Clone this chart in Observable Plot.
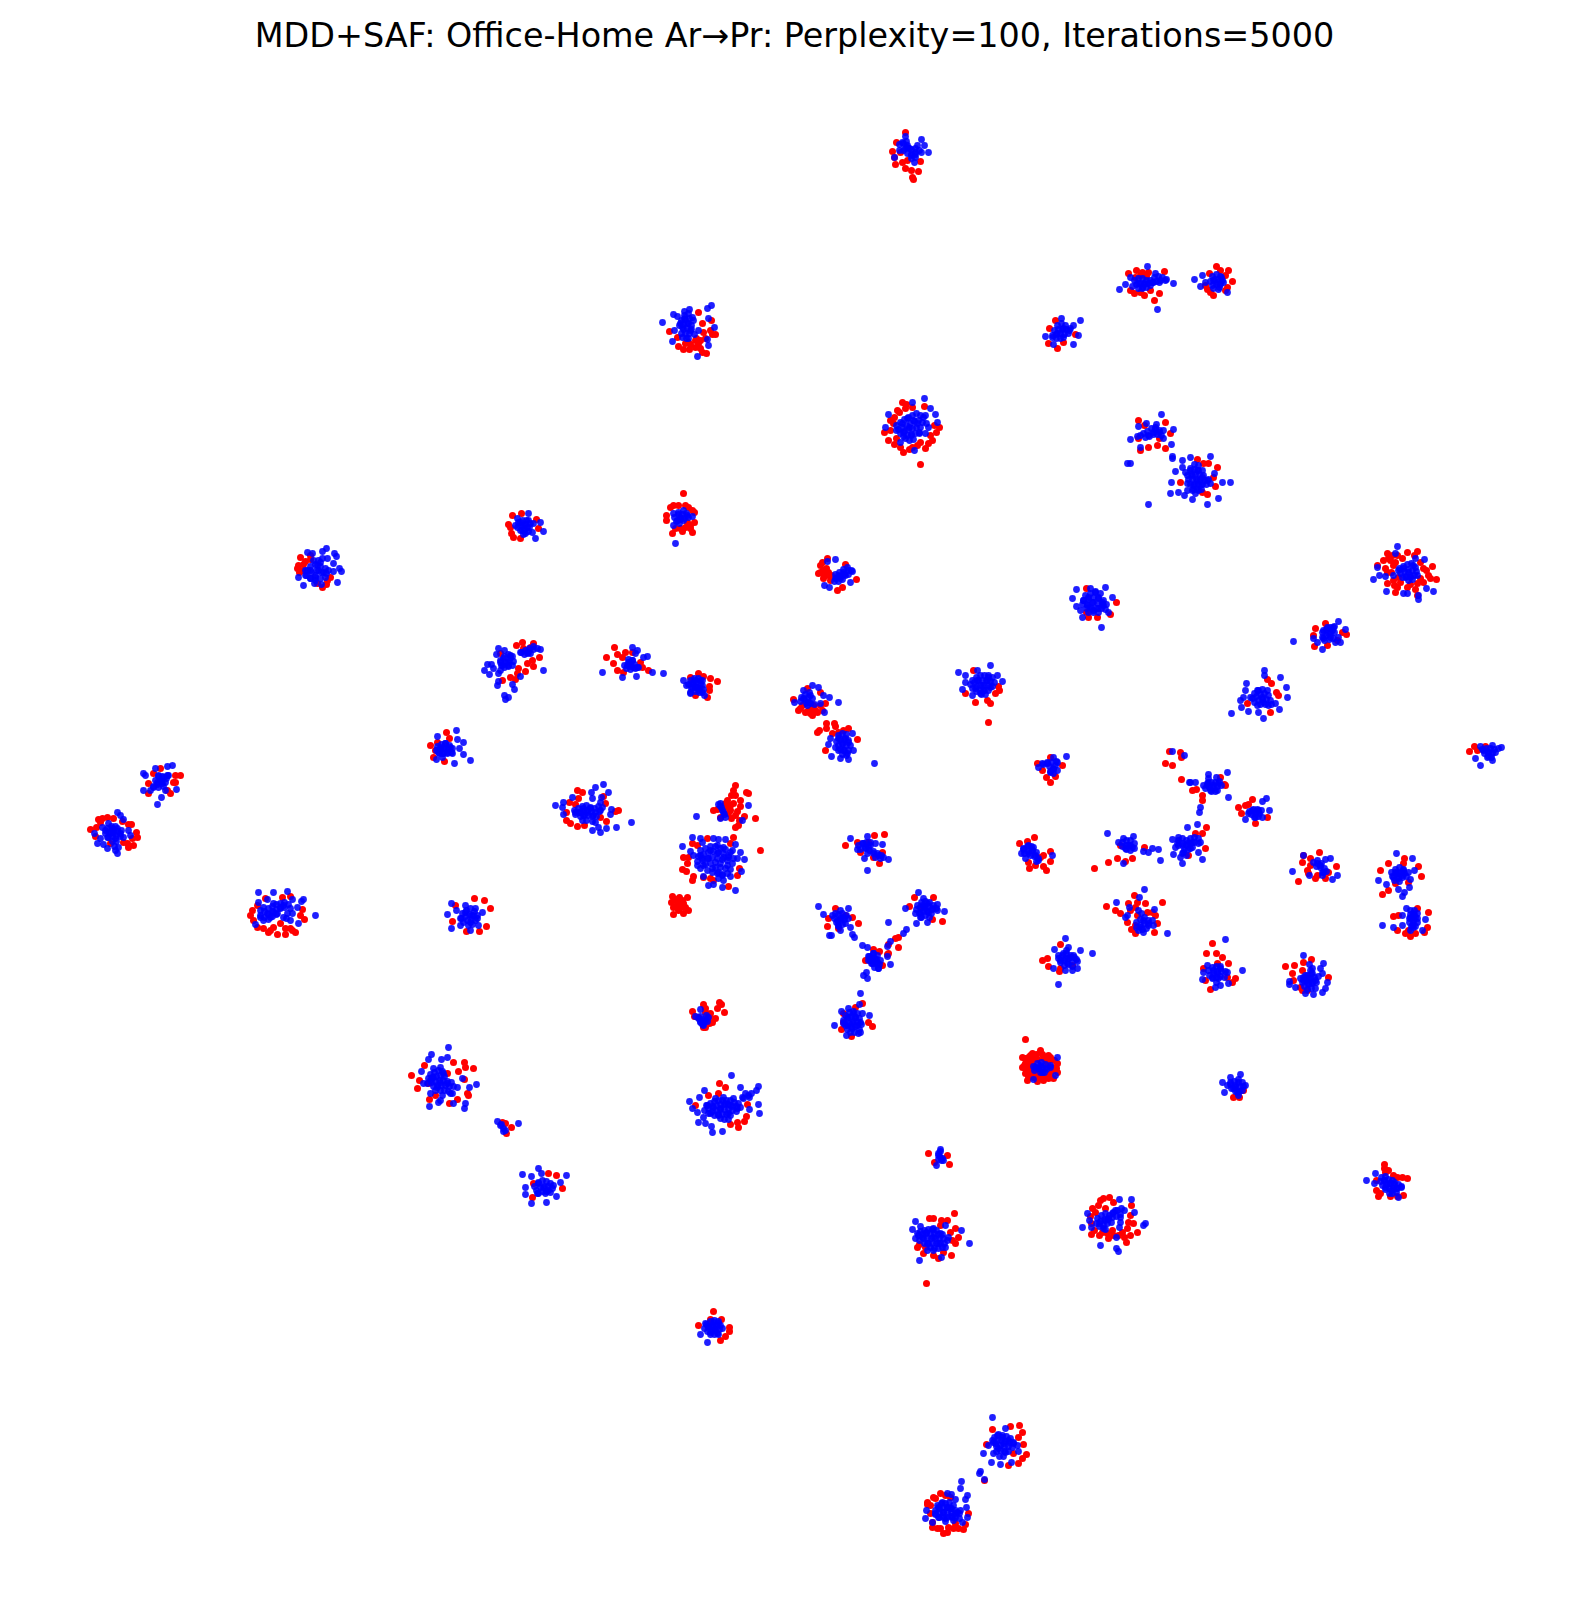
<!DOCTYPE html>
<html><head><meta charset="utf-8">
<script src="https://cdn.jsdelivr.net/npm/d3@7"></script>
<script src="https://cdn.jsdelivr.net/npm/@observablehq/plot@0.6"></script>
<style>
html,body{margin:0;padding:0;background:#fff}
#title{height:70px;line-height:71px;text-align:center;font-family:"DejaVu Sans",sans-serif;font-size:33.4px;color:#000;white-space:nowrap;width:1589px}
svg{display:block}
</style></head><body>
<div id="title">MDD+SAF: Office-Home Ar→Pr: Perplexity=100, Iterations=5000</div>
<div id="chart"></div>
<script>
const sourcePoints = [
[300,557],[305,561],[297,568],[302,570],[310,555],[327,580],[322,587],[317,583],[330,577],[298,565],
[148,783],[153,773],[175,775],[180,775],[173,782],[175,782],[170,793],[148,793],[160,768],[167,790],
[90,829],[95,836],[98,819],[102,818],[107,817],[113,818],[128,824],[131,824],[136,832],[137,837],[128,847],[133,845],[123,842],[110,843],[96,827],
[252,910],[250,915],[257,927],[263,928],[268,932],[277,934],[285,934],[295,932],[304,919],[302,909],[290,928],[280,923],[265,898],[282,897],[290,896],[273,927],[253,920],
[512,515],[508,524],[511,533],[513,537],[520,538],[521,513],[536,519],[538,528],[510,527],
[683,493],[673,505],[670,507],[685,505],[692,510],[694,512],[666,515],[666,520],[694,522],[690,525],[685,527],[682,531],[692,532],[672,533],[687,522],
[516,645],[522,642],[533,643],[530,647],[523,648],[539,657],[532,660],[527,663],[533,666],[518,668],[525,671],[517,673],[510,677],[515,679],[502,680],[500,653],
[614,647],[617,654],[625,652],[606,657],[622,657],[613,663],[617,670],[623,672],[648,670],[642,667],[640,662],[632,652],
[698,673],[703,676],[710,678],[717,681],[709,686],[709,690],[707,697],[695,695],[690,677],
[446,732],[437,742],[449,738],[430,745],[433,757],[444,761],[435,750],
[577,790],[582,792],[569,802],[578,798],[575,804],[603,796],[605,803],[566,812],[566,820],[570,823],[577,826],[584,825],[606,821],[618,810],[615,811],[600,817],
[735,785],[746,792],[748,793],[731,795],[727,800],[740,800],[733,803],[713,810],[717,809],[727,807],[730,810],[737,811],[744,816],[755,818],[739,820],[738,825],[735,827],[731,818],[720,817],[728,813],
[707,838],[733,837],[730,843],[760,850],[692,843],[697,845],[683,857],[688,857],[687,863],[682,869],[686,871],[693,876],[692,880],[703,877],[710,878],[728,886],[737,875],[739,868],[713,880],
[672,896],[679,897],[687,897],[671,902],[677,902],[683,903],[673,907],[680,907],[688,910],[683,913],[673,914],[678,910],[685,907],[675,899],
[719,1002],[721,1004],[717,1008],[724,1012],[703,1004],[692,1011],[694,1016],[705,1008],[710,1013],[715,1018],[709,1023],[703,1027],[698,1017],[707,1018],
[874,835],[884,834],[845,845],[857,842],[860,852],[879,863],[873,857],[882,852],[868,842],
[835,908],[828,918],[827,926],[852,917],[858,923],[845,915],[838,928],
[914,897],[933,897],[909,906],[932,919],[942,921],[920,907],
[898,937],[895,938],[898,947],[888,944],
[873,949],[879,951],[865,960],[887,954],[888,953],[882,965],
[862,1003],[855,1007],[843,1013],[841,1029],[868,1022],[872,1026],[851,1036],[843,1022],
[1034,837],[1027,841],[1019,843],[1050,851],[1050,861],[1043,855],[1029,868],[1043,866],[1046,870],[1035,865],[1028,862],[1040,857],[1094,868],
[1060,944],[1042,960],[1047,958],[1048,966],[1059,971],[1072,965],[1060,968],
[1025,1039],[1022,1057],[1040,1050],[1032,1053],[1050,1057],[1057,1063],[1057,1072],[1053,1078],[1043,1080],[1033,1077],[1027,1080],[1022,1067],[1025,1073],[1028,1062],[1035,1058],[1047,1062],[1040,1075],[1030,1068],[1028,1057],[1052,1070],[1037,1070],[1025,1063],[1033,1065],
[1144,847],[1132,858],[1125,861],[1117,858],[1108,862],[1120,845],
[1206,827],[1202,833],[1195,833],[1205,848],[1188,855],
[1252,799],[1238,807],[1245,805],[1241,813],[1267,817],[1255,823],[1248,804],
[1181,779],[1192,790],[1196,789],[1202,795],[1220,777],[1224,784],[1202,800],[1225,785],
[1169,751],[1165,763],[1172,765],[1180,752],[1181,757],
[1134,895],[1162,902],[1106,906],[1115,910],[1120,913],[1128,903],[1137,902],[1145,903],[1127,922],[1137,915],[1147,912],[1155,915],[1157,923],[1131,929],[1154,932],[1135,933],
[1212,943],[1206,953],[1216,953],[1222,957],[1217,963],[1228,963],[1203,968],[1205,980],[1210,989],[1235,978],[1232,982],[1227,977],
[1285,966],[1294,965],[1303,962],[1311,959],[1328,977],[1302,970],[1292,973],[1293,980],[1302,990],[1307,990],[1300,987],
[1319,852],[1303,855],[1310,858],[1302,862],[1336,866],[1298,881],[1328,872],[1308,873],[1317,875],
[1404,858],[1388,863],[1380,870],[1418,866],[1421,876],[1388,890],[1382,894],[1395,883],[1403,863],[1408,882],
[1428,912],[1417,908],[1393,916],[1397,930],[1405,933],[1410,936],[1415,933],[1427,927],[1424,932],[1398,915],[1408,930],
[1233,1097],[1239,1097],[1243,1090],
[827,558],[820,565],[818,573],[823,578],[828,572],[823,570],[830,580],[845,564],[856,579],[842,587],[837,590],[822,572],
[1086,588],[1116,602],[1110,614],[1097,617],[1088,617],[1086,612],
[973,670],[965,693],[975,702],[987,700],[990,703],[998,686],[999,690],[995,693],[988,722],
[798,710],[793,699],[802,705],[812,715],[817,712],[822,710],[825,703],[820,692],[808,710],[807,688],[813,705],
[826,723],[834,723],[835,726],[826,728],[819,730],[817,732],[825,750],[832,733],[848,728],[843,730],[857,739],[838,732],
[1050,757],[1037,763],[1042,770],[1062,765],[1055,776],[1046,777],[1050,782],
[905,132],[896,142],[892,151],[894,157],[895,164],[902,162],[905,168],[911,170],[918,171],[912,177],[913,179],[920,161],[900,152],[907,160],
[698,312],[711,320],[715,334],[712,334],[669,331],[677,337],[678,346],[683,349],[689,349],[698,343],[700,348],[706,353],[702,352],[703,332],[696,338],[702,323],[688,342],
[1049,328],[1055,320],[1048,343],[1057,348],[1063,342],[1075,334],
[1136,270],[1128,273],[1148,272],[1164,271],[1140,275],[1134,293],[1144,295],[1159,293],[1154,300],[1150,290],
[1216,266],[1228,270],[1232,281],[1207,289],[1213,295],[1227,287],[1209,273],
[902,402],[924,406],[897,410],[890,420],[884,432],[888,440],[894,444],[903,452],[909,449],[925,448],[932,440],[936,432],[939,427],[905,408],[920,464],[928,443],[917,445],[896,438],[894,417],
[1138,420],[1144,425],[1165,422],[1170,433],[1165,448],[1157,445],[1148,447],[1140,450],[1138,438],[1159,438],
[1197,459],[1208,463],[1217,467],[1180,482],[1215,486],[1207,494],[1202,492],[1203,463],[1213,477],
[1387,553],[1417,551],[1407,552],[1397,555],[1390,560],[1385,568],[1377,565],[1387,583],[1395,592],[1397,587],[1407,587],[1417,595],[1436,579],[1432,566],[1428,575],[1423,582],[1393,565],[1398,577],[1423,568],[1393,580],[1417,583],[1388,558],
[1315,628],[1314,646],[1325,623],[1327,645],[1342,632],[1346,634],[1337,640],[1313,635],
[1267,679],[1271,683],[1276,692],[1270,712],[1278,695],[1247,703],
[1474,746],[1469,751],[1485,746],[1477,750],
[411,1075],[419,1080],[417,1088],[424,1065],[428,1083],[453,1062],[464,1062],[465,1067],[458,1071],[473,1068],[467,1093],[468,1095],[435,1095],[429,1099],[449,1103],[457,1099],[447,1073],[464,1079],
[505,1123],[511,1127],[506,1133],[502,1122],
[548,1173],[556,1175],[562,1188],[532,1197],[533,1183],
[719,1083],[725,1087],[708,1095],[718,1093],[747,1104],[746,1116],[744,1121],[738,1127],[730,1124],[737,1122],[695,1105],
[713,1311],[698,1325],[710,1319],[721,1319],[729,1327],[729,1331],[725,1336],[720,1340],
[992,1429],[1019,1425],[1010,1426],[1022,1432],[1018,1437],[1023,1444],[1026,1454],[1018,1463],[1008,1465],[986,1444],[1022,1458],[1013,1453],[984,1480],[926,1283],
[940,1493],[933,1497],[927,1502],[927,1504],[968,1513],[963,1529],[953,1528],[943,1533],[937,1528],[930,1513],[947,1532],[958,1528],[950,1497],[932,1522],
[928,1153],[947,1155],[934,1162],[949,1164],
[954,1213],[929,1218],[933,1218],[941,1220],[947,1220],[955,1228],[958,1237],[955,1243],[951,1255],[938,1258],[933,1255],[923,1253],[917,1247],[943,1252],
[1103,1198],[1109,1197],[1113,1202],[1092,1208],[1098,1205],[1105,1208],[1091,1223],[1091,1234],[1099,1235],[1108,1238],[1113,1235],[1126,1242],[1130,1235],[1137,1232],[1131,1205],[1133,1223],[1122,1232],
[1384,1164],[1385,1172],[1393,1175],[1402,1177],[1407,1178],[1376,1190],[1378,1196],[1390,1196],[1403,1195],[1376,1180],
[484,900],[490,908],[486,926],[466,931],[455,905],[474,898],[479,931],[452,921]
];
const sourceFillPoints = [
[1030,1055],[1036,1054],[1042,1054],[1048,1055],[1054,1060],[1025,1058],[1031,1060],[1037,1059],[1043,1058],[1049,1060],[1024,1065],[1029,1065],[1052,1067],[1056,1068],[1026,1070],[1031,1072],[1050,1073],[1028,1076],[1034,1075],[1039,1077],[1045,1076],[1048,1078],[1037,1081],
[893,423],[899,412],[906,404],[912,407],[930,435],[890,430],[920,442],[900,447],[934,425],[912,447],
[1383,560],[1395,562],[1402,558],[1414,555],[1420,562],[1426,570],[1430,578],[1420,578],[1387,572],[1391,572],[1394,585],[1400,582],[1410,584],[1415,589],[1392,555],
[935,1498],[945,1495],[930,1505],[932,1527],[940,1528],[955,1523],[965,1524],[948,1527],
[925,1247],[919,1244],[940,1225],[950,1232],[952,1240],
[1100,1200],[1095,1212],[1090,1216],[1094,1230],[1102,1232],[1107,1233],[1112,1230],[1118,1235],[1124,1237],[1127,1228],[1130,1215],[1128,1222],
[1388,1170],[1397,1177],[1380,1193],[1397,1196],[1384,1168],
[676,906],[682,900],
[303,564],[299,572],[310,559],[326,584],
[100,822],[122,821],[127,843],[132,838],
[257,905],[292,930],[300,915],[270,930],[285,928],
[690,344],[695,340],[700,340],[705,338],[685,343],[710,330],[695,347],
[1135,277],[1142,272],[1146,276],[1130,290],[1140,292],
[1220,270],[1225,275],[1205,285],[1210,292],[1225,290],
[733,790],[735,795],[725,803],[730,805],[740,806],[735,815],
[805,712],[810,713],[815,710],[812,708],[800,708],[820,705],
[822,562],[826,568],[820,572],[826,575],[831,575],
[1310,865],[1307,870],[1315,878],[1325,878],
[1130,910],[1135,907],[1152,912],[1135,925],
[705,1012],[709,1016],[712,1022],[705,1027],
[678,505],[688,507],[675,528],[680,528],[690,528]
];
const targetPoints = [
[307,552],[312,553],[326,548],[322,551],[334,553],[336,556],[339,568],[341,571],[333,563],[337,582],[298,577],[303,585],[321,584],[313,560],[320,562],[327,558],[305,575],[310,570],[315,575],[318,570],[323,572],[310,578],[315,580],[307,570],[317,565],[328,570],[333,571],
[143,773],[145,775],[155,768],[167,766],[172,765],[143,790],[157,804],[161,797],[176,789],[160,780],[157,782],[163,777],[167,775],[153,787],[150,790],[165,790],[158,775],[162,783],
[117,812],[120,815],[123,819],[102,827],[94,833],[100,838],[97,843],[103,844],[107,848],[115,850],[117,853],[118,847],[128,830],[130,835],[123,837],[108,823],[113,832],[110,833],[117,828],[107,837],[115,838],[120,833],[112,828],[105,830],
[258,892],[273,892],[287,891],[303,899],[301,901],[315,915],[297,907],[292,899],[258,902],[255,924],[267,899],[263,907],[273,903],[283,905],[260,917],[267,913],[273,912],[280,908],[287,913],[290,920],[298,923],[263,920],[270,917],[277,913],[260,910],[283,917],
[528,513],[540,522],[543,531],[535,538],[517,518],[523,525],[520,522],[527,527],[528,520],[522,530],[525,533],[532,532],[515,525],[533,523],
[675,543],[673,525],[673,513],[683,510],[692,516],[680,517],[677,520],[683,520],[687,515],[678,512],
[498,648],[496,654],[504,650],[487,664],[491,664],[484,670],[489,674],[500,670],[498,681],[497,685],[512,684],[514,689],[504,695],[508,697],[505,699],[543,670],[520,676],[540,649],[533,649],[527,653],[520,652],[530,653],[507,662],[503,658],[510,657],[502,665],[508,665],[500,662],[498,673],[493,668],[510,655],
[632,647],[637,650],[635,653],[647,656],[643,657],[602,672],[622,677],[636,676],[652,672],[663,673],[630,663],[627,665],[633,667],[637,667],[632,660],
[683,680],[686,685],[690,692],[693,683],[697,687],[700,680],[695,680],[702,692],[704,695],[690,693],[698,690],[692,687],[702,685],
[456,730],[437,736],[457,739],[463,742],[459,748],[463,754],[454,763],[470,760],[436,759],[443,748],[440,747],[447,752],[450,747],[438,752],[445,743],[452,753],[442,753],
[603,784],[595,787],[608,792],[591,792],[592,798],[555,805],[563,802],[562,807],[572,797],[563,814],[611,809],[610,814],[631,822],[616,827],[606,828],[592,830],[600,832],[598,827],[602,807],[600,810],[587,812],[580,812],[575,812],[583,808],[590,808],[593,815],[582,820],[595,822],[583,815],
[696,816],[748,805],[742,820],[720,803],[721,807],[723,812],[725,817],[720,818],
[682,846],[692,837],[700,838],[702,842],[713,838],[718,839],[725,839],[735,844],[732,850],[740,852],[744,859],[737,858],[741,871],[730,876],[735,890],[722,887],[713,884],[708,885],[690,851],[693,855],[700,855],[697,865],[703,865],[703,876],[710,850],[717,853],[723,857],[715,862],[720,863],[727,865],[708,858],[712,868],[718,872],[723,880],[722,875],[728,855],[702,858],[707,870],[717,845],[723,847],
[700,1009],[695,1016],[700,1022],[703,1025],[708,1017],[705,1020],[703,1023],
[850,838],[867,836],[882,844],[857,849],[867,870],[888,859],[864,858],[863,843],[868,847],[865,848],[870,842],[875,843],[878,855],[883,857],[873,853],
[818,906],[823,914],[848,908],[832,915],[831,935],[829,935],[852,934],[854,937],[850,927],[840,910],[840,918],[837,920],[843,917],[838,925],[835,913],[845,923],
[918,892],[923,898],[905,908],[937,904],[944,911],[916,923],[927,922],[915,913],[920,917],[925,908],[922,905],[928,912],[927,903],[920,912],[932,908],[937,910],
[888,922],[906,929],[903,933],[887,946],[890,941],
[862,945],[867,947],[887,956],[890,964],[866,972],[863,975],[867,978],[868,956],[874,958],[872,963],[877,962],[873,953],[878,968],[870,960],
[860,993],[859,1004],[841,1011],[848,1008],[862,1013],[869,1015],[834,1025],[846,1035],[860,1032],[852,1022],[848,1017],[855,1017],[847,1025],[857,1025],[852,1028],[843,1023],[860,1022],[853,1013],
[1021,853],[1052,855],[1025,858],[1023,848],[1028,845],[1032,850],[1035,855],[1038,860],[1028,853],[1033,847],
[1065,938],[1092,953],[1058,984],[1054,949],[1068,947],[1080,950],[1077,961],[1077,968],[1053,968],[1065,970],[1072,970],[1065,958],[1060,960],[1070,957],[1063,953],[1073,955],[1067,963],[1058,955],
[1057,1057],[1055,1075],[1033,1079],[1035,1067],[1040,1065],[1045,1068],[1042,1072],[1038,1068],[1050,1067],
[1107,833],[1133,836],[1118,842],[1123,838],[1128,845],[1125,848],[1132,847],[1143,851],[1152,848],[1158,849],[1160,860],[1123,863],[1148,852],
[1197,824],[1187,827],[1172,839],[1178,837],[1173,854],[1182,863],[1202,859],[1187,843],[1182,845],[1192,842],[1177,843],[1198,852],[1183,852],[1190,848],[1200,842],[1175,847],
[1266,798],[1262,801],[1269,810],[1245,819],[1255,812],[1252,810],[1258,810],[1255,817],[1262,817],[1248,813],
[1189,782],[1195,782],[1208,774],[1227,772],[1213,785],[1208,782],[1218,783],[1210,790],[1217,790],[1200,807],[1199,812],[1228,797],[1207,785],[1190,782],
[1172,751],[1184,755],
[1144,889],[1139,897],[1116,902],[1167,933],[1154,909],[1129,907],[1125,917],[1143,920],[1140,927],[1148,923],[1153,925],[1138,910],[1143,932],[1127,915],
[1225,939],[1242,970],[1203,972],[1202,979],[1207,965],[1217,973],[1213,970],[1220,968],[1227,972],[1215,987],[1220,985],[1228,983],[1212,977],[1218,978],
[1303,955],[1323,963],[1320,968],[1322,973],[1327,982],[1325,988],[1322,992],[1313,994],[1305,993],[1295,987],[1289,981],[1289,984],[1308,978],[1305,975],[1312,973],[1308,983],[1312,983],[1315,980],[1303,980],[1310,970],
[1330,858],[1325,859],[1292,871],[1337,875],[1332,879],[1309,875],[1303,855],[1317,863],[1320,865],[1323,872],[1322,875],
[1396,853],[1412,858],[1378,880],[1386,884],[1414,870],[1410,879],[1409,887],[1404,892],[1402,896],[1398,889],[1398,873],[1395,872],[1402,875],[1398,878],[1403,870],[1393,877],
[1406,908],[1382,925],[1393,927],[1402,925],[1425,919],[1422,930],[1413,913],[1413,920],[1412,925],[1415,917],[1410,917],[1402,915],[1413,927],
[1240,1074],[1230,1077],[1222,1082],[1224,1092],[1245,1085],[1235,1085],[1230,1082],[1238,1082],[1237,1092],[1233,1088],[1242,1090],[1227,1085],
[827,561],[835,559],[824,585],[829,587],[850,582],[852,571],[838,575],[843,572],[848,570],[835,578],[840,578],[845,575],
[1105,587],[1076,589],[1072,598],[1076,606],[1082,617],[1101,627],[1112,597],[1090,588],[1080,610],[1108,612],[1093,602],[1088,597],[1098,597],[1087,605],[1098,608],[1093,610],[1103,605],[1083,600],[1095,592],[1102,602],[1090,607],
[977,670],[990,665],[958,672],[965,675],[965,682],[962,689],[1002,681],[997,675],[982,685],[977,680],[987,680],[983,690],[975,688],[990,687],[972,695],[980,693],[988,677],
[812,685],[818,687],[823,695],[829,697],[838,702],[824,712],[794,702],[820,703],[803,690],[808,702],[803,698],[810,695],[807,705],
[830,738],[828,744],[831,756],[840,758],[848,759],[874,763],[853,750],[852,733],[842,743],[838,738],[845,738],[843,750],[838,750],[848,742],[835,747],[847,753],
[1066,756],[1053,757],[1038,767],[1042,763],[1057,762],[1050,772],[1053,768],[1047,763],[1057,770],
[894,157],[902,142],[905,136],[921,139],[924,145],[928,152],[914,162],[909,148],[915,152],[907,145],[917,145],[921,152],[911,155],[905,148],[899,150],
[662,322],[673,314],[677,316],[674,330],[672,341],[684,311],[689,309],[707,308],[711,305],[708,318],[714,327],[707,339],[708,345],[697,356],[688,323],[684,318],[692,317],[682,327],[690,330],[698,330],[682,337],[688,338],[680,323],
[1080,320],[1045,336],[1053,344],[1073,344],[1078,335],[1061,318],[1063,328],[1057,333],[1069,330],[1052,337],[1063,337],[1073,325],
[1147,266],[1119,289],[1125,284],[1130,277],[1157,309],[1173,283],[1165,280],[1155,273],[1159,282],[1144,283],[1138,283],[1150,285],[1132,286],[1153,282],[1142,288],
[1194,279],[1202,275],[1200,286],[1227,292],[1217,282],[1213,280],[1221,277],[1219,287],[1205,282],[1223,282],
[924,398],[912,402],[930,408],[935,414],[888,414],[885,427],[937,422],[914,450],[900,442],[909,427],[902,423],[917,423],[923,417],[911,435],[903,432],[919,433],[896,430],[907,418],[928,427],[913,420],[905,438],[925,433],
[1161,414],[1138,426],[1130,439],[1173,429],[1171,444],[1140,447],[1130,463],[1153,432],[1148,435],[1159,432],[1140,435],[1155,427],[1146,423],[1163,438],
[1172,456],[1172,458],[1190,457],[1210,456],[1182,460],[1182,467],[1175,471],[1185,472],[1214,473],[1171,482],[1222,482],[1230,482],[1170,493],[1178,492],[1184,495],[1192,499],[1218,498],[1207,504],[1148,504],[1127,463],[1197,480],[1192,475],[1202,477],[1193,485],[1200,485],[1207,480],[1187,483],[1197,470],[1198,490],[1192,490],[1210,483],[1190,468],
[1397,546],[1395,553],[1415,558],[1424,559],[1377,567],[1373,579],[1379,575],[1385,576],[1386,591],[1403,593],[1407,593],[1418,595],[1418,599],[1426,588],[1433,591],[1408,572],[1403,568],[1413,565],[1410,577],[1398,570],[1417,575],[1393,575],[1405,577],
[1293,641],[1338,621],[1333,627],[1345,629],[1322,649],[1313,638],[1340,642],[1328,633],[1323,630],[1330,637],[1323,638],[1335,642],[1317,642],[1327,627],[1332,630],
[1264,670],[1264,675],[1280,677],[1286,687],[1287,697],[1279,709],[1263,718],[1248,711],[1231,713],[1241,707],[1240,700],[1246,683],[1245,690],[1262,697],[1257,690],[1267,690],[1250,697],[1257,705],[1268,705],[1275,703],[1243,697],[1263,702],[1258,712],
[1501,747],[1492,745],[1480,746],[1480,765],[1475,758],[1492,760],[1488,752],[1483,750],[1495,752],[1487,757],[1498,748],
[448,1047],[447,1057],[431,1054],[428,1059],[441,1059],[421,1071],[429,1106],[464,1108],[465,1103],[476,1084],[469,1087],[453,1103],[438,1102],[423,1083],[440,1082],[433,1077],[447,1083],[437,1087],[430,1080],[443,1073],[450,1093],[440,1067],[457,1087],[442,1095],[430,1093],[462,1078],[433,1068],
[497,1121],[500,1125],[518,1123],[503,1131],
[538,1168],[522,1174],[566,1175],[531,1176],[541,1173],[525,1187],[525,1194],[531,1203],[546,1202],[556,1196],[560,1182],[543,1187],[538,1183],[548,1190],[553,1185],[537,1193],[545,1193],
[731,1075],[740,1087],[758,1086],[756,1090],[749,1097],[758,1104],[759,1113],[749,1109],[704,1090],[699,1097],[689,1101],[692,1108],[697,1112],[698,1122],[705,1123],[712,1132],[722,1131],[711,1126],[720,1108],[713,1107],[725,1103],[733,1098],[707,1105],[718,1115],[728,1113],[737,1108],[710,1113],[723,1097],[743,1098],[703,1117],[730,1105],[715,1098],
[700,1334],[707,1342],[705,1323],[713,1327],[718,1323],[710,1332],[717,1333],[708,1327],[722,1328],[713,1322],[715,1330],
[992,1417],[1005,1428],[988,1445],[983,1453],[991,1462],[1000,1464],[1011,1462],[1018,1451],[1003,1443],[997,1435],[995,1443],[1008,1440],[993,1453],[1005,1452],[1013,1443],[998,1448],[1002,1437],[992,1440],
[980,1471],[979,1473],[984,1479],[961,1481],[960,1488],[967,1495],[965,1499],
[951,1494],[955,1499],[966,1507],[926,1510],[925,1518],[932,1522],[962,1522],[967,1517],[947,1493],[943,1512],[938,1507],[950,1508],[945,1518],[938,1517],[952,1517],[957,1512],[942,1502],[935,1513],[953,1520],[947,1507],[960,1510],
[940,1149],[940,1157],[936,1165],[941,1160],[938,1153],
[915,1221],[912,1229],[920,1226],[945,1225],[961,1230],[969,1243],[919,1260],[941,1257],[915,1238],[933,1237],[926,1232],[940,1233],[927,1243],[938,1243],[948,1237],[922,1237],[933,1228],[945,1247],[933,1250],[917,1233],
[1119,1199],[1131,1199],[1134,1212],[1087,1213],[1089,1220],[1082,1227],[1091,1227],[1145,1223],[1143,1225],[1100,1245],[1116,1237],[1116,1248],[1118,1251],[1105,1220],[1099,1223],[1115,1210],[1120,1217],[1108,1218],[1119,1227],[1124,1210],[1103,1228],[1112,1213],
[1366,1180],[1375,1173],[1374,1183],[1398,1197],[1389,1183],[1396,1188],[1384,1180],[1391,1190],[1401,1187],[1385,1187],[1394,1182],
[451,903],[447,914],[451,928],[471,915],[465,912],[477,918],[460,918],[470,922],[482,912],[475,908],[465,905],[460,925],[478,925],[456,910],[470,930]
];
const targetCorePoints = [
[305,570],[310,566],[315,564],[320,566],[325,568],[306,575],[311,572],[316,570],[321,572],[326,573],[310,578],[315,577],[320,578],[325,577],[318,560],[322,558],[314,583],
[155,780],[158,776],[162,776],[166,778],[157,784],[161,781],[165,782],[153,786],[158,787],[168,775],[163,786],
[107,828],[111,826],[115,826],[105,833],[109,832],[113,830],[117,831],[121,830],[108,837],[112,836],[116,835],[120,836],[112,841],[116,841],[114,846],
[260,915],[264,911],[268,908],[272,906],[276,904],[280,903],[284,902],[288,904],[264,917],[268,914],[272,911],[276,909],[280,907],[284,907],[268,919],[272,916],[276,914],[290,908],[292,913],[286,918],
[518,522],[522,520],[526,520],[530,523],[517,527],[521,525],[525,524],[529,527],[520,530],[524,529],[528,531],[523,534],
[674,517],[678,514],[682,514],[686,513],[676,521],[680,519],[684,518],[688,517],[679,523],
[500,660],[504,656],[508,654],[512,656],[501,665],[505,662],[509,660],[513,661],[504,667],[508,666],[512,665],[521,652],[525,650],[529,648],[533,646],[537,648],[524,654],[528,652],
[624,665],[628,662],[632,660],[626,668],[630,666],[634,664],[630,669],[635,668],[638,667],[628,659],
[690,680],[694,678],[698,678],[702,680],[688,684],[692,683],[696,682],[700,684],[691,688],[695,687],[699,688],[703,689],[695,691],[699,692],
[437,746],[441,744],[445,743],[449,745],[436,750],[440,749],[444,748],[448,749],[452,748],[439,753],[443,753],[447,753],[451,752],[442,757],
[574,810],[578,808],[582,806],[586,805],[590,807],[594,808],[598,806],[575,814],[579,812],[583,811],[587,810],[591,811],[595,812],[599,811],[580,816],[584,815],[588,815],[592,816],[596,816],[600,802],[601,797],[586,820],[592,821],
[720,806],[722,810],[724,814],[718,804],
[700,850],[705,848],[710,846],[715,846],[720,848],[725,849],[730,852],[698,856],[703,854],[708,852],[713,851],[718,852],[723,853],[728,857],[733,858],[697,861],[702,860],[707,858],[712,857],[717,858],[722,859],[727,860],[732,863],[705,864],[710,863],[715,867],[720,867],[725,868],[730,869],[700,868],[712,872],[717,873],[722,874],[727,873],[718,878],
[700,1016],[703,1019],[706,1015],[700,1021],[702,1024],[707,1021],[698,1018],
[858,845],[862,843],[866,842],[870,845],[860,849],[865,847],[869,850],[873,851],[877,853],[881,855],[875,857],[880,858],[867,853],
[834,918],[838,914],[842,913],[846,915],[836,922],[840,920],[844,919],[838,926],[842,924],[848,918],[840,930],
[917,905],[921,902],[925,901],[929,902],[933,905],[916,909],[920,907],[924,906],[928,906],[932,909],[936,908],[919,913],[923,911],[927,911],[931,913],[921,917],[925,915],[929,917],
[869,956],[873,953],[877,955],[868,960],[872,958],[876,959],[880,960],[871,963],[875,963],[879,964],[874,967],[878,968],
[845,1015],[849,1012],[853,1011],[857,1013],[843,1020],[847,1018],[851,1016],[855,1017],[859,1018],[845,1025],[849,1023],[853,1021],[857,1022],[861,1024],[847,1029],[851,1027],[855,1026],[859,1029],[850,1032],[854,1032],[858,1033],
[1023,849],[1027,846],[1031,846],[1024,853],[1028,851],[1032,850],[1036,852],[1030,855],[1034,856],[1038,858],[1036,861],
[1058,958],[1062,955],[1066,953],[1070,955],[1074,957],[1060,962],[1064,960],[1068,958],[1072,961],[1076,959],[1064,965],[1068,964],[1072,966],[1066,950],
[1033,1066],[1037,1063],[1041,1062],[1045,1064],[1034,1070],[1038,1068],[1042,1067],[1046,1069],[1050,1065],[1040,1072],[1044,1072],
[1122,842],[1126,840],[1130,840],[1122,846],[1126,845],[1130,845],[1134,843],[1126,849],[1130,850],[1134,848],
[1178,840],[1182,838],[1186,840],[1190,838],[1194,837],[1198,838],[1178,845],[1182,843],[1186,845],[1190,843],[1194,842],[1198,843],[1184,849],[1188,849],[1192,847],[1182,853],[1186,855],[1180,857],
[1249,811],[1253,809],[1257,809],[1261,810],[1251,814],[1255,813],[1259,813],[1254,817],[1258,816],
[1203,785],[1207,783],[1211,782],[1215,782],[1219,781],[1205,788],[1209,787],[1213,787],[1217,786],[1221,785],[1211,791],[1215,791],[1208,778],[1216,777],
[1136,922],[1140,919],[1144,917],[1148,920],[1152,920],[1136,927],[1140,925],[1144,923],[1148,925],[1138,930],[1142,929],[1146,928],[1141,913],
[1208,970],[1212,967],[1216,966],[1220,966],[1209,975],[1213,973],[1217,971],[1221,971],[1225,971],[1212,978],[1216,977],[1220,976],[1224,977],[1216,982],
[1303,977],[1307,975],[1311,973],[1312,968],[1309,964],[1302,982],[1306,980],[1310,978],[1314,977],[1318,976],[1304,986],[1308,984],[1312,982],[1316,982],[1307,989],[1311,988],[1315,988],[1300,978],
[1313,862],[1317,860],[1321,863],[1316,866],[1320,867],[1324,868],[1322,872],[1326,871],
[1391,872],[1395,869],[1399,867],[1403,869],[1392,876],[1396,873],[1400,872],[1404,873],[1408,872],[1394,880],[1398,877],[1402,877],[1406,876],[1399,881],
[1410,910],[1414,910],[1410,914],[1414,914],[1417,913],[1409,918],[1413,917],[1417,918],[1409,922],[1413,922],[1417,922],[1411,926],[1415,926],[1410,930],
[1230,1084],[1234,1081],[1238,1079],[1242,1082],[1231,1088],[1235,1087],[1239,1086],[1243,1086],[1235,1091],[1239,1091],[1238,1095],
[835,574],[839,572],[843,569],[847,567],[851,570],[836,578],[840,576],[844,574],[848,574],[834,581],[838,581],[842,579],
[1085,595],[1090,593],[1095,591],[1100,593],[1083,600],[1088,599],[1093,597],[1098,598],[1103,600],[1082,604],[1087,604],[1092,602],[1097,603],[1102,604],[1106,604],[1086,608],[1091,608],[1096,608],[1101,608],[1093,612],[1098,612],[1088,612],[1105,609],
[972,680],[976,677],[980,675],[984,675],[988,675],[992,677],[970,684],[974,682],[978,680],[982,680],[986,680],[990,681],[994,682],[972,688],[976,686],[980,685],[984,685],[988,685],[992,686],[976,691],[980,690],[984,690],[988,690],[981,694],[985,694],
[801,697],[805,694],[809,692],[800,701],[804,699],[808,697],[812,698],[806,703],[810,703],[814,704],
[838,735],[842,733],[846,734],[836,741],[840,739],[844,739],[848,740],[838,745],[842,744],[846,745],[850,745],[840,749],[844,750],[848,750],[842,754],[846,755],
[1043,764],[1047,762],[1051,762],[1055,765],[1049,766],[1053,769],[1050,771],[1056,761],[1053,773],
[899,144],[903,143],[907,147],[911,149],[915,148],[903,150],[907,153],[911,154],[915,154],[919,150],[911,158],[915,157],[906,141],
[684,315],[688,313],[681,320],[685,319],[689,318],[693,320],[679,325],[683,324],[687,323],[691,325],[683,329],[687,328],[691,329],[681,333],[685,333],[689,333],[686,338],[694,334],
[1057,325],[1061,323],[1065,325],[1054,330],[1058,329],[1062,329],[1066,329],[1070,328],[1052,335],[1056,334],[1060,333],[1064,334],[1068,333],[1060,338],[1056,338],
[1134,280],[1138,278],[1142,278],[1146,280],[1150,280],[1154,277],[1158,276],[1162,277],[1166,279],[1136,284],[1140,283],[1144,284],[1148,283],[1152,282],[1156,281],[1160,280],[1138,288],[1142,287],[1146,287],
[1212,276],[1216,274],[1220,276],[1210,281],[1214,279],[1218,279],[1222,280],[1212,285],[1216,284],[1220,284],[1213,288],[1218,289],
[896,425],[900,422],[904,419],[908,417],[912,415],[916,413],[920,415],[925,415],[898,429],[902,427],[906,425],[910,423],[914,421],[918,420],[922,422],[926,423],[900,433],[904,431],[908,429],[912,428],[916,427],[920,427],[903,436],[907,435],[911,434],[915,433],[919,432],[909,440],[913,439],
[1143,433],[1147,431],[1151,428],[1155,429],[1159,430],[1163,430],[1145,437],[1149,436],[1153,434],[1157,434],[1161,435],[1137,436],[1156,424],
[1194,464],[1198,465],[1190,470],[1194,469],[1198,470],[1202,470],[1187,475],[1191,474],[1195,474],[1199,474],[1203,475],[1188,479],[1192,479],[1196,479],[1200,479],[1204,480],[1208,479],[1190,484],[1194,484],[1198,484],[1202,484],[1206,484],[1193,489],[1197,489],[1201,489],[1195,493],[1187,490],
[1399,568],[1403,566],[1407,564],[1411,563],[1415,567],[1400,573],[1404,571],[1408,569],[1412,570],[1416,571],[1402,577],[1406,576],[1410,575],[1414,575],[1408,580],[1412,579],
[1322,632],[1326,629],[1330,627],[1334,626],[1322,637],[1326,635],[1330,633],[1334,632],[1324,640],[1329,639],[1333,638],[1338,637],
[1254,693],[1258,690],[1262,689],[1252,698],[1256,696],[1260,694],[1264,693],[1268,695],[1254,702],[1258,700],[1262,699],[1266,699],[1270,700],[1260,704],[1265,704],[1271,704],
[1482,749],[1486,748],[1490,748],[1494,749],[1484,753],[1488,752],[1492,753],[1488,756],[1491,757],
[430,1074],[434,1072],[438,1070],[442,1071],[428,1078],[432,1077],[436,1076],[440,1075],[444,1076],[427,1083],[431,1082],[435,1081],[439,1080],[443,1080],[447,1081],[451,1082],[433,1086],[437,1085],[441,1085],[445,1085],[449,1086],[453,1086],[435,1090],[440,1090],[444,1090],[448,1091],[452,1093],[440,1100],
[501,1124],[503,1128],[505,1130],
[534,1186],[538,1182],[542,1180],[546,1181],[550,1183],[536,1190],[540,1187],[544,1186],[548,1186],[552,1188],[538,1193],[542,1191],[546,1191],[550,1192],
[706,1105],[710,1103],[714,1101],[718,1100],[722,1100],[726,1100],[730,1100],[734,1102],[738,1103],[704,1110],[708,1108],[712,1106],[716,1105],[720,1104],[724,1104],[728,1104],[732,1106],[736,1106],[740,1107],[708,1113],[712,1111],[716,1110],[720,1109],[724,1109],[728,1109],[732,1110],[736,1111],[714,1115],[718,1114],[722,1114],[726,1114],[730,1115],[720,1118],[724,1119],[728,1119],[745,1093],[742,1097],[748,1095],[751,1093],
[706,1324],[710,1321],[714,1320],[718,1321],[704,1328],[708,1326],[712,1325],[716,1325],[720,1325],[707,1331],[711,1330],[715,1329],[719,1329],[710,1334],[714,1334],[718,1334],
[994,1437],[998,1434],[1002,1435],[1006,1436],[1010,1438],[993,1442],[997,1440],[1001,1440],[1005,1441],[1009,1442],[1013,1442],[1017,1445],[996,1446],[1000,1445],[1004,1446],[1008,1446],[1012,1447],[996,1451],[1000,1450],[1004,1451],[1008,1451],[1003,1456],[999,1456],
[937,1505],[941,1503],[945,1503],[949,1502],[953,1505],[935,1510],[939,1508],[943,1507],[947,1507],[951,1508],[955,1510],[935,1514],[939,1513],[943,1512],[947,1512],[951,1512],[955,1513],[959,1513],[939,1517],[943,1517],[947,1517],[951,1516],[955,1517],[959,1518],[945,1521],
[938,1155],[940,1151],[942,1158],[938,1159],[943,1160],
[920,1231],[924,1230],[928,1229],[932,1229],[936,1230],[918,1235],[922,1234],[926,1233],[930,1233],[934,1233],[938,1234],[942,1234],[919,1240],[923,1238],[927,1238],[931,1238],[935,1238],[939,1238],[943,1238],[947,1240],[924,1243],[928,1243],[932,1243],[936,1243],[940,1243],[944,1243],[930,1247],[934,1248],[938,1248],[942,1247],[927,1250],
[1097,1218],[1101,1215],[1105,1213],[1109,1215],[1113,1212],[1117,1210],[1121,1208],[1096,1223],[1100,1221],[1104,1219],[1108,1219],[1112,1217],[1116,1216],[1120,1214],[1099,1226],[1103,1225],[1107,1223],[1111,1222],[1120,1222],[1105,1229],
[1381,1177],[1385,1176],[1380,1181],[1384,1180],[1388,1179],[1392,1180],[1382,1185],[1386,1184],[1390,1183],[1394,1184],[1398,1184],[1385,1189],[1389,1188],[1393,1188],[1397,1188],[1401,1186],[1392,1193],[1396,1192],[1389,1193],
[462,913],[466,910],[470,908],[474,911],[461,918],[465,916],[469,914],[473,915],[477,915],[463,922],[467,920],[471,919],[475,920],[468,925],[472,924]
];
const plot = Plot.plot({
  width: 1589,
  height: 1552,
  margin: 0,
  x: {domain: [0, 1589], axis: null},
  y: {domain: [1622, 70], axis: null},
  style: {background: "#fff"},
  marks: [
    Plot.dot(sourcePoints.concat(sourceFillPoints), {x: d => d[0], y: d => d[1], r: 3.5, fill: "#ff0000", stroke: "none"}),
    Plot.dot(targetPoints.concat(targetCorePoints), {x: d => d[0], y: d => d[1], r: 3.4, fill: "#0000ff", fillOpacity: 0.88, stroke: "none"})
  ]
});
document.getElementById("chart").appendChild(plot);
</script></body></html>
